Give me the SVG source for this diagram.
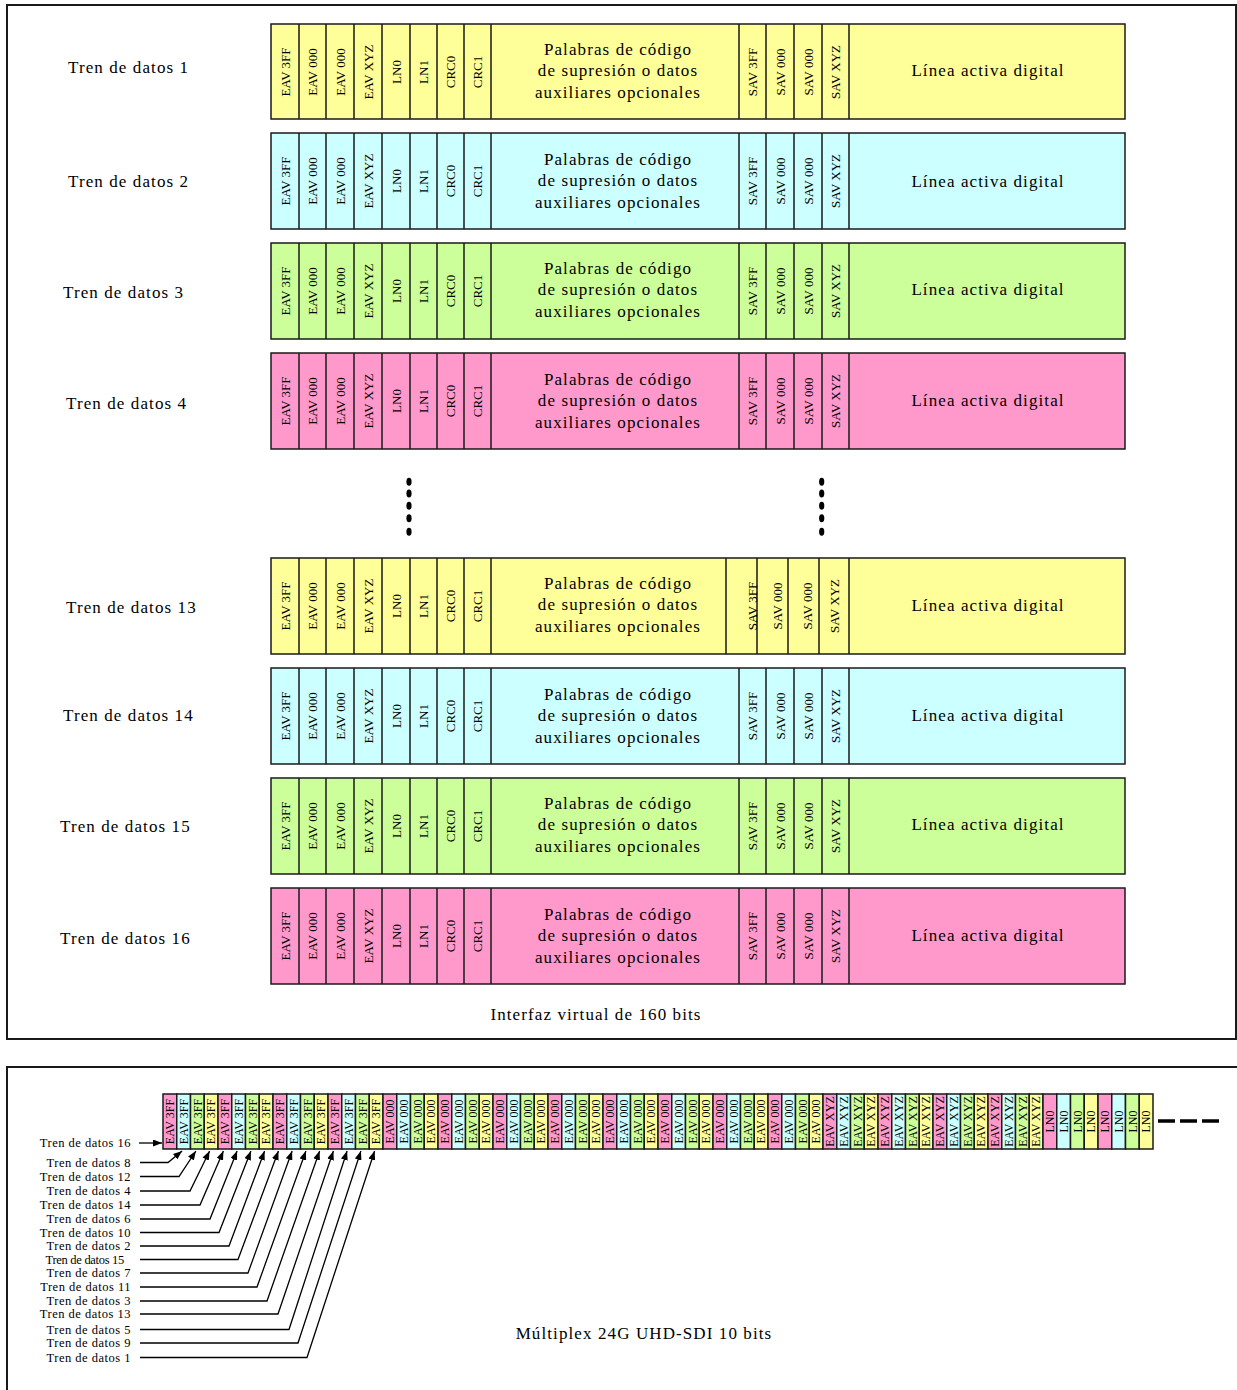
<svg xmlns="http://www.w3.org/2000/svg" width="1237" height="1390" viewBox="0 0 1237 1390">
<style>
.frame{fill:none;stroke:#1a1a1a;stroke-width:2}
.cell{stroke:#1a1a1a;stroke-width:1.5}
.div{fill:none;stroke:#1a1a1a;stroke-width:1.5}
.y{fill:#ffff99}.c{fill:#ccffff}.g{fill:#ccff99}.p{fill:#ff99cc}
text{font-family:"Liberation Serif","Times New Roman",serif;fill:#000}
.lbl{font-size:17px;letter-spacing:1.1px}
.mid{text-anchor:middle}
.v{font-size:13px;text-anchor:middle}
.vs{font-size:12px;text-anchor:middle}
.small{font-size:12.5px;letter-spacing:0.5px;text-anchor:end}
.conn{fill:none;stroke:#000;stroke-width:1.3}
.dash{fill:none;stroke:#000;stroke-width:3.4;stroke-dasharray:17 5}
</style>
<defs>
<marker id="ah" markerWidth="9" markerHeight="7" refX="9" refY="3.5" orient="auto" markerUnits="userSpaceOnUse"><path d="M0 0L9 3.5L0 7z" fill="#000"/></marker>
</defs>
<rect class="frame" x="7" y="5" width="1229" height="1034"/>
<rect class="frame" x="7" y="1067" width="1245" height="340"/>

<g id="row1">
<text class="lbl" x="68" y="73">Tren de datos 1</text>
<rect class="cell y" x="271" y="24" width="854" height="95"/>
<path class="div" d="M299 24v95M326 24v95M354 24v95M382 24v95M410 24v95M437 24v95M464 24v95M491 24v95M739 24v95M766 24v95M794 24v95M822 24v95M849 24v95"/>
<g transform="rotate(-90)"><text class="v" x="-72" y="289.5">EAV 3FF</text><text class="v" x="-72" y="317">EAV 000</text><text class="v" x="-72" y="344.5">EAV 000</text><text class="v" x="-72" y="372.5">EAV XYZ</text><text class="v" x="-72" y="400.5">LN0</text><text class="v" x="-72" y="428">LN1</text><text class="v" x="-72" y="455">CRC0</text><text class="v" x="-72" y="482">CRC1</text><text class="v" x="-72" y="757">SAV 3FF</text><text class="v" x="-72" y="784.5">SAV 000</text><text class="v" x="-72" y="812.5">SAV 000</text><text class="v" x="-72" y="840">SAV XYZ</text></g>
<text class="lbl mid" x="618" y="54.5">Palabras de código</text><text class="lbl mid" x="618" y="76">de supresión o datos</text><text class="lbl mid" x="618" y="97.5">auxiliares opcionales</text>
<text class="lbl mid" x="988" y="75.5">Línea activa digital</text>
</g>

<g id="row2">
<text class="lbl" x="68" y="187">Tren de datos 2</text>
<rect class="cell c" x="271" y="133" width="854" height="96"/>
<path class="div" d="M299 133v96M326 133v96M354 133v96M382 133v96M410 133v96M437 133v96M464 133v96M491 133v96M739 133v96M766 133v96M794 133v96M822 133v96M849 133v96"/>
<g transform="rotate(-90)"><text class="v" x="-181" y="289.5">EAV 3FF</text><text class="v" x="-181" y="317">EAV 000</text><text class="v" x="-181" y="344.5">EAV 000</text><text class="v" x="-181" y="372.5">EAV XYZ</text><text class="v" x="-181" y="400.5">LN0</text><text class="v" x="-181" y="428">LN1</text><text class="v" x="-181" y="455">CRC0</text><text class="v" x="-181" y="482">CRC1</text><text class="v" x="-181" y="757">SAV 3FF</text><text class="v" x="-181" y="784.5">SAV 000</text><text class="v" x="-181" y="812.5">SAV 000</text><text class="v" x="-181" y="840">SAV XYZ</text></g>
<text class="lbl mid" x="618" y="164.5">Palabras de código</text><text class="lbl mid" x="618" y="186">de supresión o datos</text><text class="lbl mid" x="618" y="207.5">auxiliares opcionales</text>
<text class="lbl mid" x="988" y="186.5">Línea activa digital</text>
</g>

<g id="row3">
<text class="lbl" x="63" y="298">Tren de datos 3</text>
<rect class="cell g" x="271" y="243" width="854" height="96"/>
<path class="div" d="M299 243v96M326 243v96M354 243v96M382 243v96M410 243v96M437 243v96M464 243v96M491 243v96M739 243v96M766 243v96M794 243v96M822 243v96M849 243v96"/>
<g transform="rotate(-90)"><text class="v" x="-291" y="289.5">EAV 3FF</text><text class="v" x="-291" y="317">EAV 000</text><text class="v" x="-291" y="344.5">EAV 000</text><text class="v" x="-291" y="372.5">EAV XYZ</text><text class="v" x="-291" y="400.5">LN0</text><text class="v" x="-291" y="428">LN1</text><text class="v" x="-291" y="455">CRC0</text><text class="v" x="-291" y="482">CRC1</text><text class="v" x="-291" y="757">SAV 3FF</text><text class="v" x="-291" y="784.5">SAV 000</text><text class="v" x="-291" y="812.5">SAV 000</text><text class="v" x="-291" y="840">SAV XYZ</text></g>
<text class="lbl mid" x="618" y="273.5">Palabras de código</text><text class="lbl mid" x="618" y="295">de supresión o datos</text><text class="lbl mid" x="618" y="316.5">auxiliares opcionales</text>
<text class="lbl mid" x="988" y="294.5">Línea activa digital</text>
</g>

<g id="row4">
<text class="lbl" x="66" y="409">Tren de datos 4</text>
<rect class="cell p" x="271" y="353" width="854" height="96"/>
<path class="div" d="M299 353v96M326 353v96M354 353v96M382 353v96M410 353v96M437 353v96M464 353v96M491 353v96M739 353v96M766 353v96M794 353v96M822 353v96M849 353v96"/>
<g transform="rotate(-90)"><text class="v" x="-401" y="289.5">EAV 3FF</text><text class="v" x="-401" y="317">EAV 000</text><text class="v" x="-401" y="344.5">EAV 000</text><text class="v" x="-401" y="372.5">EAV XYZ</text><text class="v" x="-401" y="400.5">LN0</text><text class="v" x="-401" y="428">LN1</text><text class="v" x="-401" y="455">CRC0</text><text class="v" x="-401" y="482">CRC1</text><text class="v" x="-401" y="757">SAV 3FF</text><text class="v" x="-401" y="784.5">SAV 000</text><text class="v" x="-401" y="812.5">SAV 000</text><text class="v" x="-401" y="840">SAV XYZ</text></g>
<text class="lbl mid" x="618" y="384.5">Palabras de código</text><text class="lbl mid" x="618" y="406">de supresión o datos</text><text class="lbl mid" x="618" y="427.5">auxiliares opcionales</text>
<text class="lbl mid" x="988" y="405.5">Línea activa digital</text>
</g>

<g id="ellipsis">
<ellipse cx="409" cy="481.7" rx="2.6" ry="4"/><ellipse cx="409" cy="493.5" rx="2.6" ry="4"/><ellipse cx="409" cy="505.7" rx="2.6" ry="4"/><ellipse cx="409" cy="518.3" rx="2.6" ry="4"/><ellipse cx="409" cy="531.7" rx="2.6" ry="4"/>
<ellipse cx="821.7" cy="481.7" rx="2.6" ry="4"/><ellipse cx="821.7" cy="493.5" rx="2.6" ry="4"/><ellipse cx="821.7" cy="505.7" rx="2.6" ry="4"/><ellipse cx="821.7" cy="518.3" rx="2.6" ry="4"/><ellipse cx="821.7" cy="531.7" rx="2.6" ry="4"/>
</g>

<g id="row13">
<text class="lbl" x="66" y="613">Tren de datos 13</text>
<rect class="cell y" x="271" y="558" width="854" height="96"/>
<path class="div" d="M299 558v96M326 558v96M354 558v96M382 558v96M410 558v96M437 558v96M464 558v96M491 558v96M726 558v96M757 558v96M788 558v96M819 558v96M849 558v96"/>
<g transform="rotate(-90)"><text class="v" x="-606" y="289.5">EAV 3FF</text><text class="v" x="-606" y="317">EAV 000</text><text class="v" x="-606" y="344.5">EAV 000</text><text class="v" x="-606" y="372.5">EAV XYZ</text><text class="v" x="-606" y="400.5">LN0</text><text class="v" x="-606" y="428">LN1</text><text class="v" x="-606" y="455">CRC0</text><text class="v" x="-606" y="482">CRC1</text><text class="v" x="-606" y="757">SAV 3FF</text><text class="v" x="-606" y="781.5">SAV 000</text><text class="v" x="-606" y="812">SAV 000</text><text class="v" x="-606" y="838.5">SAV XYZ</text></g>
<text class="lbl mid" x="618" y="588.5">Palabras de código</text><text class="lbl mid" x="618" y="610">de supresión o datos</text><text class="lbl mid" x="618" y="631.5">auxiliares opcionales</text>
<text class="lbl mid" x="988" y="610.5">Línea activa digital</text>
</g>

<g id="row14">
<text class="lbl" x="63" y="721">Tren de datos 14</text>
<rect class="cell c" x="271" y="668" width="854" height="96"/>
<path class="div" d="M299 668v96M326 668v96M354 668v96M382 668v96M410 668v96M437 668v96M464 668v96M491 668v96M739 668v96M766 668v96M794 668v96M822 668v96M849 668v96"/>
<g transform="rotate(-90)"><text class="v" x="-716" y="289.5">EAV 3FF</text><text class="v" x="-716" y="317">EAV 000</text><text class="v" x="-716" y="344.5">EAV 000</text><text class="v" x="-716" y="372.5">EAV XYZ</text><text class="v" x="-716" y="400.5">LN0</text><text class="v" x="-716" y="428">LN1</text><text class="v" x="-716" y="455">CRC0</text><text class="v" x="-716" y="482">CRC1</text><text class="v" x="-716" y="757">SAV 3FF</text><text class="v" x="-716" y="784.5">SAV 000</text><text class="v" x="-716" y="812.5">SAV 000</text><text class="v" x="-716" y="840">SAV XYZ</text></g>
<text class="lbl mid" x="618" y="699.5">Palabras de código</text><text class="lbl mid" x="618" y="721">de supresión o datos</text><text class="lbl mid" x="618" y="742.5">auxiliares opcionales</text>
<text class="lbl mid" x="988" y="720.5">Línea activa digital</text>
</g>

<g id="row15">
<text class="lbl" x="60" y="832">Tren de datos 15</text>
<rect class="cell g" x="271" y="778" width="854" height="96"/>
<path class="div" d="M299 778v96M326 778v96M354 778v96M382 778v96M410 778v96M437 778v96M464 778v96M491 778v96M739 778v96M766 778v96M794 778v96M822 778v96M849 778v96"/>
<g transform="rotate(-90)"><text class="v" x="-826" y="289.5">EAV 3FF</text><text class="v" x="-826" y="317">EAV 000</text><text class="v" x="-826" y="344.5">EAV 000</text><text class="v" x="-826" y="372.5">EAV XYZ</text><text class="v" x="-826" y="400.5">LN0</text><text class="v" x="-826" y="428">LN1</text><text class="v" x="-826" y="455">CRC0</text><text class="v" x="-826" y="482">CRC1</text><text class="v" x="-826" y="757">SAV 3FF</text><text class="v" x="-826" y="784.5">SAV 000</text><text class="v" x="-826" y="812.5">SAV 000</text><text class="v" x="-826" y="840">SAV XYZ</text></g>
<text class="lbl mid" x="618" y="808.5">Palabras de código</text><text class="lbl mid" x="618" y="830">de supresión o datos</text><text class="lbl mid" x="618" y="851.5">auxiliares opcionales</text>
<text class="lbl mid" x="988" y="829.5">Línea activa digital</text>
</g>

<g id="row16">
<text class="lbl" x="60" y="944">Tren de datos 16</text>
<rect class="cell p" x="271" y="888" width="854" height="96"/>
<path class="div" d="M299 888v96M326 888v96M354 888v96M382 888v96M410 888v96M437 888v96M464 888v96M491 888v96M739 888v96M766 888v96M794 888v96M822 888v96M849 888v96"/>
<g transform="rotate(-90)"><text class="v" x="-936" y="289.5">EAV 3FF</text><text class="v" x="-936" y="317">EAV 000</text><text class="v" x="-936" y="344.5">EAV 000</text><text class="v" x="-936" y="372.5">EAV XYZ</text><text class="v" x="-936" y="400.5">LN0</text><text class="v" x="-936" y="428">LN1</text><text class="v" x="-936" y="455">CRC0</text><text class="v" x="-936" y="482">CRC1</text><text class="v" x="-936" y="757">SAV 3FF</text><text class="v" x="-936" y="784.5">SAV 000</text><text class="v" x="-936" y="812.5">SAV 000</text><text class="v" x="-936" y="840">SAV XYZ</text></g>
<text class="lbl mid" x="618" y="919.5">Palabras de código</text><text class="lbl mid" x="618" y="941">de supresión o datos</text><text class="lbl mid" x="618" y="962.5">auxiliares opcionales</text>
<text class="lbl mid" x="988" y="940.5">Línea activa digital</text>
</g>

<text id="title-top" class="lbl mid" x="596" y="1020">Interfaz virtual de 160 bits</text>

<g id="multiplex">
<rect class="cell p" x="163" y="1094" width="13.75" height="55"/><rect class="cell c" x="176.75" y="1094" width="13.75" height="55"/><rect class="cell g" x="190.5" y="1094" width="13.75" height="55"/><rect class="cell y" x="204.25" y="1094" width="13.75" height="55"/>
<rect class="cell p" x="218" y="1094" width="13.75" height="55"/><rect class="cell c" x="231.75" y="1094" width="13.75" height="55"/><rect class="cell g" x="245.5" y="1094" width="13.75" height="55"/><rect class="cell y" x="259.25" y="1094" width="13.75" height="55"/>
<rect class="cell p" x="273" y="1094" width="13.75" height="55"/><rect class="cell c" x="286.75" y="1094" width="13.75" height="55"/><rect class="cell g" x="300.5" y="1094" width="13.75" height="55"/><rect class="cell y" x="314.25" y="1094" width="13.75" height="55"/>
<rect class="cell p" x="328" y="1094" width="13.75" height="55"/><rect class="cell c" x="341.75" y="1094" width="13.75" height="55"/><rect class="cell g" x="355.5" y="1094" width="13.75" height="55"/><rect class="cell y" x="369.25" y="1094" width="13.75" height="55"/>
<rect class="cell p" x="383" y="1094" width="13.75" height="55"/><rect class="cell c" x="396.75" y="1094" width="13.75" height="55"/><rect class="cell g" x="410.5" y="1094" width="13.75" height="55"/><rect class="cell y" x="424.25" y="1094" width="13.75" height="55"/>
<rect class="cell p" x="438" y="1094" width="13.75" height="55"/><rect class="cell c" x="451.75" y="1094" width="13.75" height="55"/><rect class="cell g" x="465.5" y="1094" width="13.75" height="55"/><rect class="cell y" x="479.25" y="1094" width="13.75" height="55"/>
<rect class="cell p" x="493" y="1094" width="13.75" height="55"/><rect class="cell c" x="506.75" y="1094" width="13.75" height="55"/><rect class="cell g" x="520.5" y="1094" width="13.75" height="55"/><rect class="cell y" x="534.25" y="1094" width="13.75" height="55"/>
<rect class="cell p" x="548" y="1094" width="13.75" height="55"/><rect class="cell c" x="561.75" y="1094" width="13.75" height="55"/><rect class="cell g" x="575.5" y="1094" width="13.75" height="55"/><rect class="cell y" x="589.25" y="1094" width="13.75" height="55"/>
<rect class="cell p" x="603" y="1094" width="13.75" height="55"/><rect class="cell c" x="616.75" y="1094" width="13.75" height="55"/><rect class="cell g" x="630.5" y="1094" width="13.75" height="55"/><rect class="cell y" x="644.25" y="1094" width="13.75" height="55"/>
<rect class="cell p" x="658" y="1094" width="13.75" height="55"/><rect class="cell c" x="671.75" y="1094" width="13.75" height="55"/><rect class="cell g" x="685.5" y="1094" width="13.75" height="55"/><rect class="cell y" x="699.25" y="1094" width="13.75" height="55"/>
<rect class="cell p" x="713" y="1094" width="13.75" height="55"/><rect class="cell c" x="726.75" y="1094" width="13.75" height="55"/><rect class="cell g" x="740.5" y="1094" width="13.75" height="55"/><rect class="cell y" x="754.25" y="1094" width="13.75" height="55"/>
<rect class="cell p" x="768" y="1094" width="13.75" height="55"/><rect class="cell c" x="781.75" y="1094" width="13.75" height="55"/><rect class="cell g" x="795.5" y="1094" width="13.75" height="55"/><rect class="cell y" x="809.25" y="1094" width="13.75" height="55"/>
<rect class="cell p" x="823" y="1094" width="13.75" height="55"/><rect class="cell c" x="836.75" y="1094" width="13.75" height="55"/><rect class="cell g" x="850.5" y="1094" width="13.75" height="55"/><rect class="cell y" x="864.25" y="1094" width="13.75" height="55"/>
<rect class="cell p" x="878" y="1094" width="13.75" height="55"/><rect class="cell c" x="891.75" y="1094" width="13.75" height="55"/><rect class="cell g" x="905.5" y="1094" width="13.75" height="55"/><rect class="cell y" x="919.25" y="1094" width="13.75" height="55"/>
<rect class="cell p" x="933" y="1094" width="13.75" height="55"/><rect class="cell c" x="946.75" y="1094" width="13.75" height="55"/><rect class="cell g" x="960.5" y="1094" width="13.75" height="55"/><rect class="cell y" x="974.25" y="1094" width="13.75" height="55"/>
<rect class="cell p" x="988" y="1094" width="13.75" height="55"/><rect class="cell c" x="1001.75" y="1094" width="13.75" height="55"/><rect class="cell g" x="1015.5" y="1094" width="13.75" height="55"/><rect class="cell y" x="1029.25" y="1094" width="13.75" height="55"/>
<rect class="cell p" x="1043" y="1094" width="13.75" height="55"/><rect class="cell c" x="1056.75" y="1094" width="13.75" height="55"/><rect class="cell g" x="1070.5" y="1094" width="13.75" height="55"/><rect class="cell y" x="1084.25" y="1094" width="13.75" height="55"/>
<rect class="cell p" x="1098" y="1094" width="13.75" height="55"/><rect class="cell c" x="1111.75" y="1094" width="13.75" height="55"/><rect class="cell g" x="1125.5" y="1094" width="13.75" height="55"/><rect class="cell y" x="1139.25" y="1094" width="13.75" height="55"/>
<g transform="rotate(-90)">
<text class="vs" x="-1121.5" y="174.1">EAV 3FF</text><text class="vs" x="-1121.5" y="187.85">EAV 3FF</text><text class="vs" x="-1121.5" y="201.6">EAV 3FF</text><text class="vs" x="-1121.5" y="215.35">EAV 3FF</text>
<text class="vs" x="-1121.5" y="229.1">EAV 3FF</text><text class="vs" x="-1121.5" y="242.85">EAV 3FF</text><text class="vs" x="-1121.5" y="256.6">EAV 3FF</text><text class="vs" x="-1121.5" y="270.35">EAV 3FF</text>
<text class="vs" x="-1121.5" y="284.1">EAV 3FF</text><text class="vs" x="-1121.5" y="297.85">EAV 3FF</text><text class="vs" x="-1121.5" y="311.6">EAV 3FF</text><text class="vs" x="-1121.5" y="325.35">EAV 3FF</text>
<text class="vs" x="-1121.5" y="339.1">EAV 3FF</text><text class="vs" x="-1121.5" y="352.85">EAV 3FF</text><text class="vs" x="-1121.5" y="366.6">EAV 3FF</text><text class="vs" x="-1121.5" y="380.35">EAV 3FF</text>
<text class="vs" x="-1121.5" y="394.1">EAV 000</text><text class="vs" x="-1121.5" y="407.85">EAV 000</text><text class="vs" x="-1121.5" y="421.6">EAV 000</text><text class="vs" x="-1121.5" y="435.35">EAV 000</text>
<text class="vs" x="-1121.5" y="449.1">EAV 000</text><text class="vs" x="-1121.5" y="462.85">EAV 000</text><text class="vs" x="-1121.5" y="476.6">EAV 000</text><text class="vs" x="-1121.5" y="490.35">EAV 000</text>
<text class="vs" x="-1121.5" y="504.1">EAV 000</text><text class="vs" x="-1121.5" y="517.85">EAV 000</text><text class="vs" x="-1121.5" y="531.6">EAV 000</text><text class="vs" x="-1121.5" y="545.35">EAV 000</text>
<text class="vs" x="-1121.5" y="559.1">EAV 000</text><text class="vs" x="-1121.5" y="572.85">EAV 000</text><text class="vs" x="-1121.5" y="586.6">EAV 000</text><text class="vs" x="-1121.5" y="600.35">EAV 000</text>
<text class="vs" x="-1121.5" y="614.1">EAV 000</text><text class="vs" x="-1121.5" y="627.85">EAV 000</text><text class="vs" x="-1121.5" y="641.6">EAV 000</text><text class="vs" x="-1121.5" y="655.35">EAV 000</text>
<text class="vs" x="-1121.5" y="669.1">EAV 000</text><text class="vs" x="-1121.5" y="682.85">EAV 000</text><text class="vs" x="-1121.5" y="696.6">EAV 000</text><text class="vs" x="-1121.5" y="710.35">EAV 000</text>
<text class="vs" x="-1121.5" y="724.1">EAV 000</text><text class="vs" x="-1121.5" y="737.85">EAV 000</text><text class="vs" x="-1121.5" y="751.6">EAV 000</text><text class="vs" x="-1121.5" y="765.35">EAV 000</text>
<text class="vs" x="-1121.5" y="779.1">EAV 000</text><text class="vs" x="-1121.5" y="792.85">EAV 000</text><text class="vs" x="-1121.5" y="806.6">EAV 000</text><text class="vs" x="-1121.5" y="820.35">EAV 000</text>
<text class="vs" x="-1121.5" y="834.1">EAV XYZ</text><text class="vs" x="-1121.5" y="847.85">EAV XYZ</text><text class="vs" x="-1121.5" y="861.6">EAV XYZ</text><text class="vs" x="-1121.5" y="875.35">EAV XYZ</text>
<text class="vs" x="-1121.5" y="889.1">EAV XYZ</text><text class="vs" x="-1121.5" y="902.85">EAV XYZ</text><text class="vs" x="-1121.5" y="916.6">EAV XYZ</text><text class="vs" x="-1121.5" y="930.35">EAV XYZ</text>
<text class="vs" x="-1121.5" y="944.1">EAV XYZ</text><text class="vs" x="-1121.5" y="957.85">EAV XYZ</text><text class="vs" x="-1121.5" y="971.6">EAV XYZ</text><text class="vs" x="-1121.5" y="985.35">EAV XYZ</text>
<text class="vs" x="-1121.5" y="999.1">EAV XYZ</text><text class="vs" x="-1121.5" y="1012.85">EAV XYZ</text><text class="vs" x="-1121.5" y="1026.6">EAV XYZ</text><text class="vs" x="-1121.5" y="1040.35">EAV XYZ</text>
<text class="vs" x="-1121.5" y="1054.1">LN0</text><text class="vs" x="-1121.5" y="1067.85">LN0</text><text class="vs" x="-1121.5" y="1081.6">LN0</text><text class="vs" x="-1121.5" y="1095.35">LN0</text>
<text class="vs" x="-1121.5" y="1109.1">LN0</text><text class="vs" x="-1121.5" y="1122.85">LN0</text><text class="vs" x="-1121.5" y="1136.6">LN0</text><text class="vs" x="-1121.5" y="1150.35">LN0</text>
</g>
<path class="dash" d="M1158 1121H1224"/>
</g>

<g id="stream-labels">
<text class="small" x="131" y="1147">Tren de datos 16</text>
<text class="small" x="131" y="1166.5">Tren de datos 8</text>
<text class="small" x="131" y="1180.5">Tren de datos 12</text>
<text class="small" x="131" y="1195">Tren de datos 4</text>
<text class="small" x="131" y="1209">Tren de datos 14</text>
<text class="small" x="131" y="1223">Tren de datos 6</text>
<text class="small" x="131" y="1236.5">Tren de datos 10</text>
<text class="small" x="131" y="1250">Tren de datos 2</text>
<text class="small" x="124" y="1263.5" style="letter-spacing:-0.3px">Tren de datos 15</text>
<text class="small" x="131" y="1277">Tren de datos 7</text>
<text class="small" x="131" y="1291">Tren de datos 11</text>
<text class="small" x="131" y="1305">Tren de datos 3</text>
<text class="small" x="131" y="1318">Tren de datos 13</text>
<text class="small" x="131" y="1333.5">Tren de datos 5</text>
<text class="small" x="131" y="1347">Tren de datos 9</text>
<text class="small" x="131" y="1361.5">Tren de datos 1</text>
</g>

<g id="connectors">
<path class="conn" marker-end="url(#ah)" d="M139 1143H162"/>
<path class="conn" marker-end="url(#ah)" d="M140 1162.5H168L182.1 1151"/>
<path class="conn" marker-end="url(#ah)" d="M140 1176.5H179L195.9 1151"/>
<path class="conn" marker-end="url(#ah)" d="M140 1191H190L209.6 1151"/>
<path class="conn" marker-end="url(#ah)" d="M140 1205H200L223.4 1151"/>
<path class="conn" marker-end="url(#ah)" d="M140 1219H210L237.1 1151"/>
<path class="conn" marker-end="url(#ah)" d="M140 1232.5H219L250.9 1151"/>
<path class="conn" marker-end="url(#ah)" d="M140 1246H229L264.6 1151"/>
<path class="conn" marker-end="url(#ah)" d="M140 1259.5H238L278.4 1151"/>
<path class="conn" marker-end="url(#ah)" d="M140 1273H248L292.1 1151"/>
<path class="conn" marker-end="url(#ah)" d="M140 1287H257L305.9 1151"/>
<path class="conn" marker-end="url(#ah)" d="M140 1301H267L319.6 1151"/>
<path class="conn" marker-end="url(#ah)" d="M140 1314H278L333.4 1151"/>
<path class="conn" marker-end="url(#ah)" d="M140 1329.5H289L347.1 1151"/>
<path class="conn" marker-end="url(#ah)" d="M140 1343H298L360.9 1151"/>
<path class="conn" marker-end="url(#ah)" d="M140 1357.5H307L374.6 1151"/>
</g>

<text id="title-bottom" class="lbl mid" x="644" y="1339">Múltiplex 24G UHD-SDI 10 bits</text>
</svg>
